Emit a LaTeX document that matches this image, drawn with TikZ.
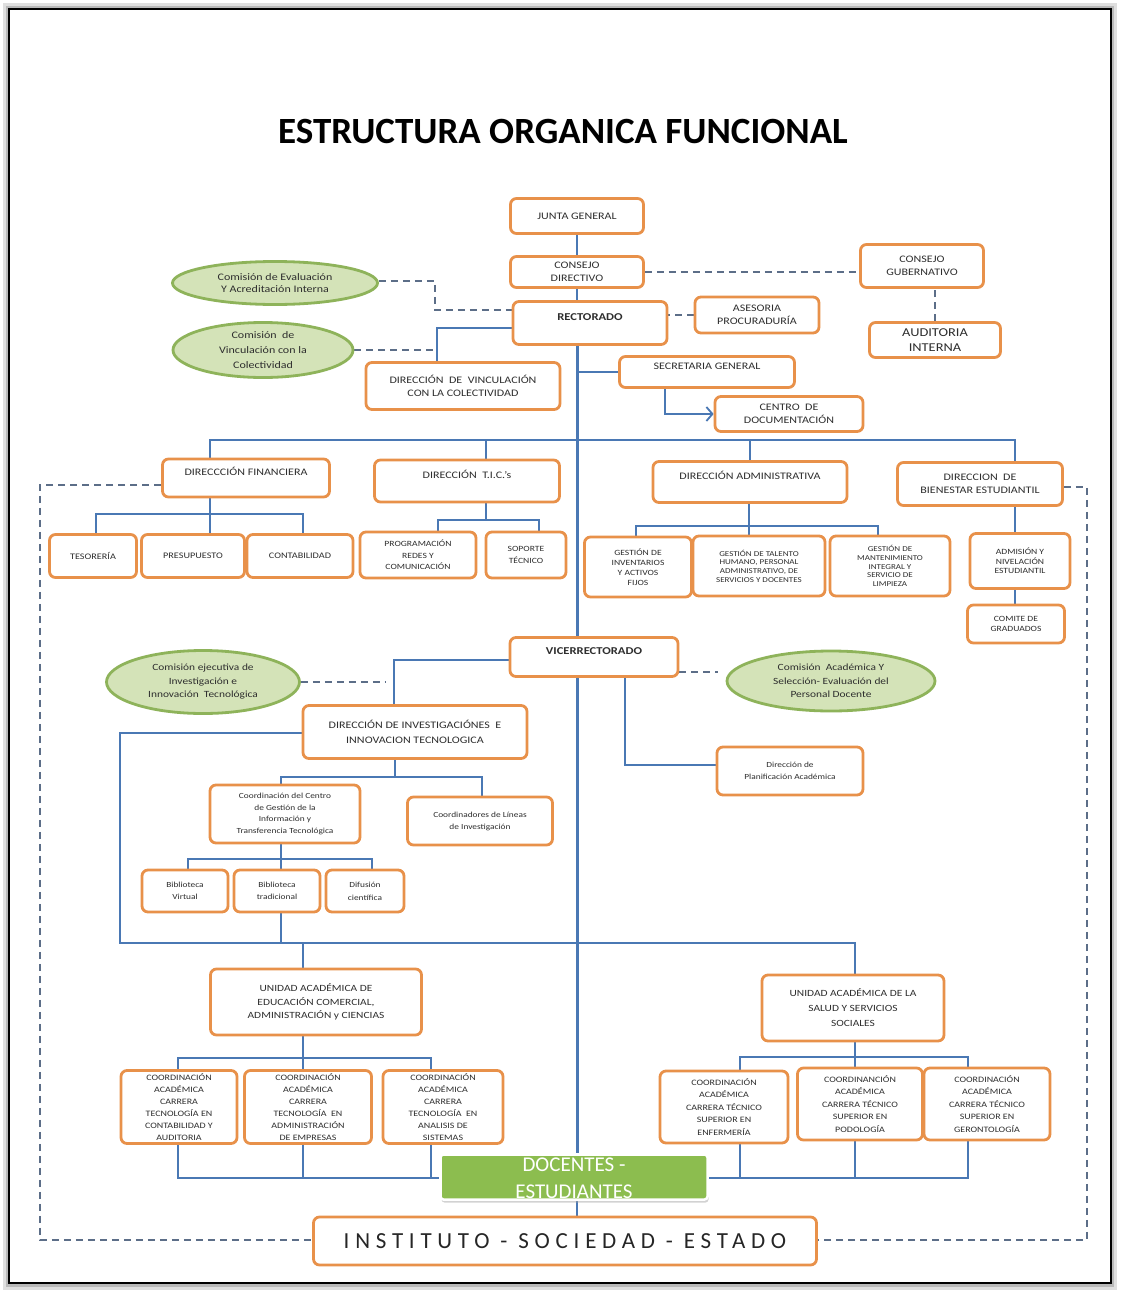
\documentclass[tikz,border=0pt]{standalone}
\usepackage{fontspec}
\setmainfont{Carlito}[FakeStretch=1.2]
\newfontfamily\titlefont{Carlito}
\newfontfamily\instfont{Carlito}[LetterSpace=25]
\usetikzlibrary{shapes.geometric,arrows.meta,shadows}
\pgfdeclarelayer{bgzero}
\pgfdeclarelayer{conn}
\pgfsetlayers{bgzero,conn,main}
\definecolor{obord}{HTML}{E8914A}
\definecolor{bline}{HTML}{4A78B4}
\definecolor{dline}{HTML}{5C6E88}
\definecolor{gfill}{HTML}{D4E3B8}
\definecolor{gbord}{HTML}{8EB35A}
\definecolor{docgreen}{HTML}{8CBD4F}
\definecolor{tgray}{HTML}{2E2E2E}
\begin{document}
\begin{tikzpicture}[x=1pt,y=-1pt,
 ob/.style={draw=obord, line width=2.8pt, rounded corners=6pt, fill=white, align=center, inner sep=1pt, text=tgray, font=\fontsize{10}{13}\selectfont},
 sz/.style 2 args={minimum width=#1pt, minimum height=#2pt},
 sm/.style={font=\fontsize{8.5}{11}\selectfont},
 xs/.style={font=\fontsize{7.5}{8.7}\selectfont},
 ell/.style={ellipse, draw=gbord, line width=2.8pt, fill=gfill, align=center, inner sep=0pt, text=tgray, font=\fontsize{10}{14}\selectfont},
 bl/.style={draw=bline, line width=1.8pt},
 mainl/.style={draw=bline, line width=3pt},
 dl/.style={draw=dline, line width=1.8pt, dash pattern=on 7pt off 5pt},
 hi/.style={text height=8pt, text depth=14pt}]
\useasboundingbox (0,0) rectangle (1120,1292);
\begin{pgfonlayer}{bgzero}
\fill[white] (0,0) rectangle (1120,1292);
\fill[gray!25] (3,3) rectangle (1117,1290);
\fill[gray!55] (6,6) rectangle (1114,1287);
\draw[black, line width=2pt, fill=white] (9,9) rectangle (1111,1283);
\end{pgfonlayer}

\node[font=\titlefont\bfseries\fontsize{37}{40}\selectfont] (title) at (563,132) {ESTRUCTURA ORGANICA FUNCIONAL};

% top
\node[ob, sz={133}{35}] (junta) at (577,216) {JUNTA GENERAL};
\node[ob, sz={133}{31}] (cdir) at (577,272) {CONSEJO\\DIRECTIVO};
\node[ob, sz={154}{43}, hi, font=\bfseries\fontsize{10.5}{13}\selectfont] (rect) at (590,323) {RECTORADO};
\node[ob, sz={124}{36}] (ases) at (757,315) {ASESORIA\\PROCURADURÍA};
\node[ob, sz={123}{43}] (cgub) at (922,266) {CONSEJO\\GUBERNATIVO};
\node[ob, sz={131}{35}, font=\fontsize{12}{15}\selectfont] (audi) at (935,340) {AUDITORIA\\INTERNA};
\node[ell, minimum width=205pt, minimum height=43pt, font=\fontsize{10}{12.5}\selectfont] (ceval) at (275,283) {Comisión de Evaluación\\Y Acreditación Interna};
\node[ell, minimum width=180pt, minimum height=55pt, font=\fontsize{10}{15}\selectfont] (cvinc) at (263,350) {Comisión \ de\\Vinculación con la\\Colectividad};
\node[ob, sz={194}{47}] (dvinc) at (463,386) {DIRECCIÓN \ DE \ VINCULACIÓN\\CON LA COLECTIVIDAD};
\node[ob, sz={175}{31}, hi] (secg) at (707,372) {SECRETARIA GENERAL};
\node[ob, sz={148}{35}] (cdoc) at (789,414) {CENTRO \ DE\\DOCUMENTACIÓN};

% direcciones
\node[ob, sz={167}{38}, hi] (dfin) at (246,478) {DIRECCCIÓN FINANCIERA};
\node[ob, sz={185}{42}, hi] (dtic) at (467,481) {DIRECCIÓN \ T.I.C.'s};
\node[ob, sz={194}{41}, hi] (dadm) at (750,482) {DIRECCIÓN ADMINISTRATIVA};
\node[ob, sz={165}{43}] (dbien) at (980,484) {DIRECCION \ DE\\BIENESTAR ESTUDIANTIL};

\node[ob, sz={87}{43}, sm] (teso) at (93,556) {TESORERÍA};
\node[ob, sz={103}{43}, sm] (pres) at (193,556) {PRESUPUESTO};
\node[ob, sz={106}{43}, sm] (cont) at (300,556) {CONTABILIDAD};
\node[ob, sz={116}{46}, font=\fontsize{8}{11.5}\selectfont] (prog) at (418,555) {PROGRAMACIÓN\\REDES Y\\COMUNICACIÓN};
\node[ob, sz={80}{46}, font=\fontsize{8}{11.5}\selectfont] (sopo) at (526,555) {SOPORTE\\TÉCNICO};
\node[ob, sz={107}{60}, font=\fontsize{8}{10}\selectfont] (ginv) at (638,567) {GESTIÓN DE\\INVENTARIOS\\Y ACTIVOS\\FIJOS};
\node[ob, sz={132}{60}, xs] (gtal) at (759,566) {GESTIÓN DE TALENTO\\HUMANO, PERSONAL\\ADMINISTRATIVO, DE\\SERVICIOS Y DOCENTES};
\node[ob, sz={120}{60}, xs] (gman) at (890,566) {GESTIÓN DE\\MANTENIMIENTO\\INTEGRAL Y\\SERVICIO DE\\LIMPIEZA};
\node[ob, sz={100}{55}, font=\fontsize{8}{9.5}\selectfont] (adm) at (1020,561) {ADMISIÓN Y\\NIVELACIÓN\\ESTUDIANTIL};
\node[ob, sz={97}{38}, font=\fontsize{8}{10}\selectfont] (comi) at (1016,624) {COMITE DE\\GRADUADOS};

% vicerrectorado
\node[ob, sz={168}{39}, hi, font=\bfseries\fontsize{10.5}{13}\selectfont] (vice) at (594,657) {VICERRECTORADO};
\node[ell, minimum width=208pt, minimum height=60pt, font=\fontsize{9.5}{13.5}\selectfont] (cacad) at (831,681) {Comisión \ Académica Y\\Selección- Evaluación del\\Personal Docente};
\node[ell, minimum width=193pt, minimum height=63pt, font=\fontsize{9.5}{13.5}\selectfont] (cejec) at (203,682) {Comisión ejecutiva de\\Investigación e\\Innovación \ Tecnológica};
\node[ob, sz={224}{53}, font=\fontsize{10}{15}\selectfont] (dinv) at (415,732) {DIRECCIÓN DE INVESTIGACIÓNES \ E\\INNOVACION TECNOLOGICA};
\node[ob, sz={146}{48}, font=\fontsize{7.8}{12}\selectfont] (dplan) at (790,771) {Dirección de\\Planificación Académica};
\node[ob, sz={150}{58}, font=\fontsize{7.8}{11.5}\selectfont] (ccen) at (285,814) {Coordinación del Centro\\de Gestión de la\\Información y\\Transferencia Tecnológica};
\node[ob, sz={145}{48}, font=\fontsize{7.8}{12}\selectfont] (clin) at (480,821) {Coordinadores de Líneas\\de Investigación};
\node[ob, sz={86}{42}, font=\fontsize{7.8}{11.5}\selectfont] (bvir) at (185,891) {Biblioteca\\Virtual};
\node[ob, sz={86}{42}, font=\fontsize{7.8}{11.5}\selectfont] (btra) at (277,891) {Biblioteca\\tradicional};
\node[ob, sz={78}{42}, font=\fontsize{7.8}{13}\selectfont] (difu) at (365,891) {Difusión\\científica};

% unidades
\node[ob, sz={211}{66}, font=\fontsize{9.5}{13.5}\selectfont] (uedu) at (316,1002) {UNIDAD ACADÉMICA DE\\EDUCACIÓN COMERCIAL,\\ADMINISTRACIÓN y CIENCIAS};
\node[ob, sz={182}{66}, font=\fontsize{9.5}{15}\selectfont] (usal) at (853,1008) {UNIDAD ACADÉMICA DE LA\\SALUD Y SERVICIOS\\SOCIALES};
\node[ob, sz={116}{73}, font=\fontsize{8.3}{12}\selectfont] (ccon) at (179,1107) {COORDINACIÓN\\ACADÉMICA\\CARRERA\\TECNOLOGÍA EN\\CONTABILIDAD Y\\AUDITORIA};
\node[ob, sz={127}{73}, font=\fontsize{8.3}{12}\selectfont] (cadm) at (308,1107) {COORDINACIÓN\\ACADÉMICA\\CARRERA\\TECNOLOGÍA \ EN\\ADMINISTRACIÓN\\DE EMPRESAS};
\node[ob, sz={120}{73}, font=\fontsize{8.3}{12}\selectfont] (cana) at (443,1107) {COORDINACIÓN\\ACADÉMICA\\CARRERA\\TECNOLOGÍA \ EN\\ANALISIS DE\\SISTEMAS};
\node[ob, sz={128}{72}, font=\fontsize{8.3}{12.5}\selectfont] (cenf) at (724,1107) {COORDINACIÓN\\ACADÉMICA\\CARRERA TÉCNICO\\SUPERIOR EN\\ENFERMERÍA};
\node[ob, sz={125}{72}, font=\fontsize{8.3}{12.5}\selectfont] (cpod) at (860,1104) {COORDINANCIÓN\\ACADÉMICA\\CARRERA TÉCNICO\\SUPERIOR EN\\PODOLOGÍA};
\node[ob, sz={126}{72}, font=\fontsize{8.3}{12.5}\selectfont] (cger) at (987,1104) {COORDINACIÓN\\ACADÉMICA\\CARRERA TÉCNICO\\SUPERIOR EN\\GERONTOLOGÍA};

% bottom
\node[draw=white, line width=2.5pt, fill=docgreen, rounded corners=3pt, minimum width=267pt, minimum height=45pt,
      drop shadow={shadow xshift=1pt, shadow yshift=-3pt, fill=gray!70}] (docs) at (574,1177) {};
\node[text=white, align=center, font=\titlefont\fontsize{21}{27}\selectfont] (docstxt) at (574,1178) {DOCENTES -\\ESTUDIANTES};
\node[ob, sz={503}{48}, text=black!85, font=\instfont\fontsize{23}{28}\selectfont] (inst) at (565,1241) {INSTITUTO - SOCIEDAD - ESTADO};

% ---------- connectors
\begin{pgfonlayer}{conn}
\draw[bl] (junta) -- (cdir);
\draw[bl] (cdir.south) -- (cdir.south |- rect.north);
\draw[dl] (cdir.east) -- (cdir.east -| cgub.west);
\draw[dl] (audi.north) -- (audi.north |- cgub.south);
\draw[dl] (ases.west) -- (ases.west -| rect.east);
\coordinate (ej) at (435,281);
\coordinate (ej2) at (435,310);
\draw[dl] (ceval.east |- ej) -- (ej) -- (ej2) -- (rect.west |- ej2);
\coordinate (vj) at (437,328);
\draw[bl] (rect.west |- vj) -- (vj) -- (vj |- dvinc.north);
\draw[dl] (cvinc.east) -- (cvinc.east -| vj);
\draw[mainl] (rect.south -| junta.south) -- (docs.north -| junta.south);
\draw[bl] (secg.west -| junta.south) -- (secg.west);
\coordinate (sa) at (665,0);
\draw[bl, -{Straight Barb[length=6pt,width=14pt,line width=1.8pt]}] (secg.south -| sa) |- (cdoc.west);

% top bus
\coordinate (tb1) at (210,440);
\coordinate (tb2) at (1015,440);
\coordinate (tbt) at (486,440);
\coordinate (tba) at (750,440);
\draw[bl] (dfin.north -| tb1) -- (tb1) -- (tb2) -- (tb2 |- dbien.north);
\draw[bl] (tbt) -- (tbt |- dtic.north);
\draw[bl] (tba) -- (tba |- dadm.north);

% financiera
\coordinate (fb1) at (96,514);
\coordinate (fb2) at (303,514);
\coordinate (fbm) at (210,514);
\draw[bl] (teso.north -| fb1) -- (fb1) -- (fb2) -- (cont.north -| fb2);
\draw[bl] (dfin.south -| fbm) -- (pres.north -| fbm);
% tic
\coordinate (tc1) at (438,520);
\coordinate (tc2) at (539,520);
\coordinate (tcm) at (486,520);
\draw[bl] (prog.north -| tc1) -- (tc1) -- (tc2) -- (sopo.north -| tc2);
\draw[bl] (dtic.south -| tcm) -- (tcm);
% administrativa
\coordinate (ad1) at (636,526);
\coordinate (ad2) at (878,526);
\coordinate (ad0) at (749,526);
\draw[bl] (ginv.north -| ad1) -- (ad1) -- (ad2) -- (gman.north -| ad2);
\draw[bl] (dadm.south -| ad0) -- (gtal.north -| ad0);
% bienestar
\draw[bl] (dbien.south -| tb2) -- (adm.north -| tb2);
\draw[bl] (adm.south -| tb2) -- (comi.north -| tb2);

% dashed loop
\coordinate (lo1) at (40,485);
\coordinate (lo2) at (40,1240);
\coordinate (ro1) at (1087,487);
\coordinate (ro2) at (1087,1240);
\draw[dl] (dfin.west |- lo1) -- (lo1) -- (lo2) -- (inst.west |- lo2);
\draw[dl] (dbien.east |- ro1) -- (ro1) -- (ro2) -- (inst.east |- ro2);

% vicerrectorado
\coordinate (vl) at (394,660);
\draw[bl] (vice.west |- vl) -- (vl) -- (vl |- dinv.north);
\coordinate (vd) at (718,672);
\draw[dl] (vice.east |- vd) -- (vd);
\coordinate (cd) at (385,682);
\draw[dl] (cejec.east |- cd) -- (cd);
\coordinate (pl) at (625,765);
\draw[bl] (vice.south -| pl) -- (pl) -- (dplan.west |- pl);

% investigacion
\coordinate (il) at (120,733);
\coordinate (ib) at (120,943);
\coordinate (ir) at (855,943);
\draw[bl] (dinv.west |- il) -- (il) -- (ib) -- (ir) -- (usal.north -| ir);
\coordinate (im) at (395,777);
\coordinate (i1) at (281,777);
\coordinate (i2) at (482,777);
\draw[bl] (dinv.south -| im) -- (im);
\draw[bl] (ccen.north -| i1) -- (i1) -- (i2) -- (clin.north -| i2);
\coordinate (cc) at (281,859);
\coordinate (c1) at (188,859);
\coordinate (c2) at (372,859);
\draw[bl] (ccen.south -| cc) -- (btra.north -| cc);
\draw[bl] (bvir.north -| c1) -- (c1) -- (c2) -- (difu.north -| c2);
\draw[bl] (btra.south -| cc) -- (cc |- ib);
\coordinate (ue) at (303,943);
\draw[bl] (ue) -- (uedu.north -| ue);

% unidad educacion
\coordinate (u0) at (303,1058);
\coordinate (u1) at (178,1058);
\coordinate (u2) at (431,1058);
\draw[bl] (uedu.south -| u0) -- (cadm.north -| u0);
\draw[bl] (ccon.north -| u1) -- (u1) -- (u2) -- (cana.north -| u2);
\coordinate (b1) at (178,1178);
\coordinate (b2) at (303,1178);
\coordinate (b3) at (431,1178);
\draw[bl] (ccon.south -| b1) -- (b1) -- (docs.west |- b1);
\draw[bl] (cadm.south -| b2) -- (b2);
\draw[bl] (cana.south -| b3) -- (b3);

% unidad salud
\coordinate (s0) at (855,1057);
\coordinate (s1) at (740,1057);
\coordinate (s2) at (968,1057);
\draw[bl] (usal.south -| s0) -- (cpod.north -| s0);
\draw[bl] (cenf.north -| s1) -- (s1) -- (s2) -- (cger.north -| s2);
\coordinate (r1) at (740,1178);
\coordinate (r2) at (855,1178);
\coordinate (r3) at (968,1178);
\draw[bl] (docs.east |- r3) -- (r3) -- (cger.south -| r3);
\draw[bl] (cenf.south -| r1) -- (r1);
\draw[bl] (cpod.south -| r2) -- (r2);

\draw[bl] (docs.south -| junta.south) -- (inst.north -| junta.south);
\end{pgfonlayer}
\end{tikzpicture}
\end{document}
